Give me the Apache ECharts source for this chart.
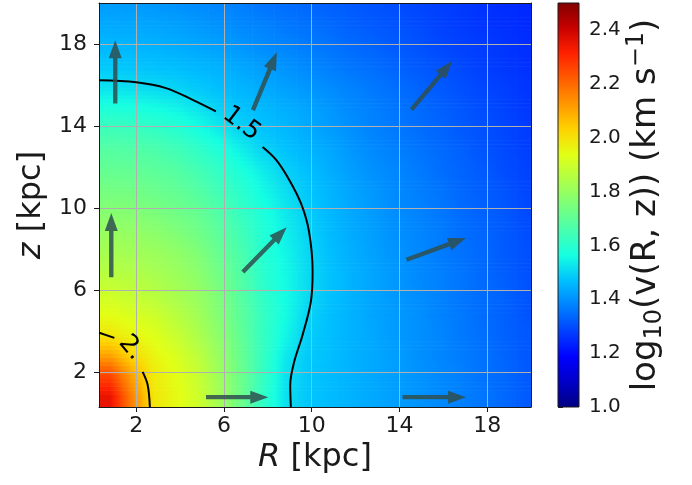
<!DOCTYPE html>
<html>
<head>
<meta charset="utf-8">
<script src="https://cdn.jsdelivr.net/npm/echarts@6.0.0/dist/echarts.min.js"></script>
<style>
  html, body { margin: 0; padding: 0; background: #fff; }
  #chart { width: 692px; height: 485px; }
</style>
</head>
<body>
<div id="chart"></div>
<script>
// cell centres (kpc), cells are 1 kpc wide
const rCells = [0.8, 1.8, 2.8, 3.8, 4.8, 5.8, 6.8, 7.8, 8.8, 9.8, 10.8, 11.8, 12.8, 13.8, 14.8, 15.8, 16.8, 17.8, 18.8, 19.8];
const zCells = [0.8, 1.8, 2.8, 3.8, 4.8, 5.8, 6.8, 7.8, 8.8, 9.8, 10.8, 11.8, 12.8, 13.8, 14.8, 15.8, 16.8, 17.8, 18.8, 19.8];

// log10 v, one row per z cell (bottom row first)
const logV = [
    [2.35, 2.16, 1.99, 1.95, 1.90, 1.82, 1.72, 1.61, 1.52, 1.48, 1.465, 1.45, 1.435, 1.42, 1.405, 1.39, 1.375, 1.36, 1.34, 1.32],
    [2.26, 2.11, 1.98, 1.94, 1.89, 1.81, 1.72, 1.62, 1.52, 1.48, 1.465, 1.45, 1.435, 1.42, 1.405, 1.39, 1.375, 1.355, 1.34, 1.32],
    [2.11, 2.02, 1.96, 1.92, 1.87, 1.80, 1.71, 1.62, 1.53, 1.485, 1.47, 1.45, 1.435, 1.42, 1.40, 1.385, 1.37, 1.355, 1.335, 1.315],
    [1.99, 1.96, 1.93, 1.89, 1.84, 1.78, 1.70, 1.62, 1.55, 1.49, 1.47, 1.45, 1.435, 1.415, 1.40, 1.385, 1.365, 1.35, 1.33, 1.315],
    [1.94, 1.92, 1.90, 1.86, 1.82, 1.76, 1.69, 1.62, 1.56, 1.50, 1.47, 1.45, 1.43, 1.415, 1.40, 1.38, 1.365, 1.345, 1.33, 1.31],
    [1.90, 1.88, 1.86, 1.83, 1.80, 1.75, 1.68, 1.61, 1.56, 1.51, 1.475, 1.45, 1.43, 1.41, 1.395, 1.38, 1.36, 1.345, 1.33, 1.31],
    [1.86, 1.85, 1.83, 1.81, 1.78, 1.73, 1.67, 1.60, 1.555, 1.51, 1.475, 1.45, 1.43, 1.41, 1.39, 1.375, 1.36, 1.34, 1.325, 1.305],
    [1.83, 1.82, 1.81, 1.79, 1.76, 1.71, 1.66, 1.59, 1.55, 1.505, 1.47, 1.445, 1.425, 1.405, 1.39, 1.37, 1.355, 1.34, 1.32, 1.305],
    [1.80, 1.795, 1.78, 1.76, 1.73, 1.69, 1.64, 1.585, 1.54, 1.50, 1.465, 1.44, 1.42, 1.40, 1.385, 1.37, 1.35, 1.335, 1.32, 1.30],
    [1.77, 1.765, 1.75, 1.73, 1.71, 1.67, 1.62, 1.575, 1.53, 1.49, 1.46, 1.435, 1.415, 1.395, 1.38, 1.365, 1.345, 1.33, 1.315, 1.295],
    [1.74, 1.735, 1.72, 1.705, 1.68, 1.64, 1.60, 1.555, 1.515, 1.48, 1.455, 1.43, 1.41, 1.39, 1.375, 1.36, 1.34, 1.325, 1.31, 1.29],
    [1.71, 1.705, 1.695, 1.68, 1.65, 1.615, 1.575, 1.535, 1.495, 1.47, 1.445, 1.42, 1.40, 1.385, 1.37, 1.35, 1.335, 1.32, 1.30, 1.285],
    [1.68, 1.675, 1.665, 1.645, 1.615, 1.58, 1.54, 1.50, 1.475, 1.455, 1.435, 1.41, 1.39, 1.375, 1.36, 1.345, 1.33, 1.31, 1.295, 1.28],
    [1.64, 1.635, 1.62, 1.60, 1.57, 1.535, 1.50, 1.475, 1.46, 1.44, 1.42, 1.40, 1.38, 1.365, 1.35, 1.335, 1.32, 1.305, 1.29, 1.275],
    [1.58, 1.575, 1.565, 1.55, 1.525, 1.495, 1.475, 1.46, 1.445, 1.43, 1.41, 1.39, 1.375, 1.36, 1.345, 1.33, 1.315, 1.30, 1.285, 1.27],
    [1.525, 1.52, 1.51, 1.50, 1.485, 1.47, 1.455, 1.44, 1.425, 1.41, 1.395, 1.38, 1.365, 1.35, 1.335, 1.32, 1.305, 1.29, 1.28, 1.265],
    [1.485, 1.48, 1.475, 1.47, 1.46, 1.45, 1.435, 1.42, 1.405, 1.39, 1.375, 1.36, 1.35, 1.335, 1.32, 1.31, 1.295, 1.28, 1.27, 1.26],
    [1.46, 1.458, 1.452, 1.445, 1.435, 1.425, 1.41, 1.395, 1.385, 1.37, 1.36, 1.345, 1.335, 1.32, 1.31, 1.295, 1.285, 1.275, 1.265, 1.255],
    [1.44, 1.437, 1.432, 1.425, 1.415, 1.405, 1.39, 1.38, 1.365, 1.355, 1.345, 1.33, 1.32, 1.31, 1.30, 1.285, 1.275, 1.265, 1.258, 1.25],
    [1.42, 1.417, 1.412, 1.405, 1.395, 1.385, 1.375, 1.36, 1.35, 1.34, 1.33, 1.32, 1.31, 1.30, 1.29, 1.28, 1.27, 1.26, 1.252, 1.245]
];

// contour log10 v = 1.5, two pieces (gap for the label)
const c15aR = [0.31, 2.0, 3.35, 4.57, 5.63];
const c15aZ = [16.23, 16.13, 15.85, 15.28, 14.72];
const c15bR = [7.76, 8.37, 8.97, 9.52, 9.88, 10.04, 9.96, 9.58, 9.2, 9.02, 9.05];
const c15bZ = [12.98, 12.36, 11.38, 10.2, 8.84, 6.9, 5.43, 3.8, 2.5, 1.37, 0.29];
// contour log10 v = 2
const c20aR = [0.31, 1.0];
const c20aZ = [3.92, 3.67];
const c20bR = [2.29, 2.52, 2.62];
const c20bZ = [2.01, 1.37, 0.29];

// contour labels
const labelText = ["1.5", "2."];
const labelR = [6.8, 1.76];
const labelZ = [14.11, 3.19];

// velocity arrows: tail (R, z) and components (dR, dz)
const arrowR = [1.04, 0.86, 5.18, 7.32, 6.86, 14.55, 14.32, 14.14];
const arrowZ = [15.1, 6.63, 0.78, 14.78, 6.88, 14.8, 7.48, 0.78];
const arrowDR = [0, 0, 2.84, 1.09, 2.0, 1.86, 2.72, 2.9];
const arrowDZ = [3.08, 3.13, 0, 2.82, 2.19, 2.37, 1.06, 0];

const rTicks = [2, 6, 10, 14, 18];
const zTicks = [2, 6, 10, 14, 18];
const cbTicks = [1.0, 1.2, 1.4, 1.6, 1.8, 2.0, 2.2, 2.4];
const vMin = 1.0, vMax = 2.5;

const jet = ["#000080", "#0000c8", "#0000ff", "#0040ff", "#0080ff", "#00bfff", "#15ffe2", "#48ffaf",
    "#7bff7b", "#afff48", "#e2ff15", "#ffd200", "#ff9700", "#ff5c00", "#ff2100", "#c80000", "#800000"];

const FONT = "DejaVu Sans";
const INK = "#1a1a1a";
const labelRotation = [-37.5, -50];

// shading (like imshow bilinear): look up the grid, no new data points
function clampIdx(f, n) { return Math.max(0, Math.min(n - 1, f)); }
function shadeAt(r, z) {
    const fx = clampIdx((r - rCells[0]) / (rCells[1] - rCells[0]), rCells.length);
    const fy = clampIdx((z - zCells[0]) / (zCells[1] - zCells[0]), zCells.length);
    const i0 = Math.floor(fx), j0 = Math.floor(fy);
    const i1 = Math.min(i0 + 1, rCells.length - 1), j1 = Math.min(j0 + 1, zCells.length - 1);
    const tx = fx - i0, ty = fy - j0;
    const a = logV[j0][i0] * (1 - tx) + logV[j0][i1] * tx;
    const b = logV[j1][i0] * (1 - tx) + logV[j1][i1] * tx;
    return a * (1 - ty) + b * ty;
}
function jetColor(v) {
    const t = Math.max(0, Math.min(1, (v - vMin) / (vMax - vMin)));
    return echarts.color.lerp(t, jet);
}

const cells = [];
zCells.forEach((z, j) => {
    rCells.forEach((r, i) => cells.push([r, z, logV[j][i]]));
});

const chart = echarts.init(document.getElementById("chart"), null, { renderer: "canvas" });

function contourSeries(rs, zs) {
    return {
        type: "line",
        xAxisIndex: 0,
        yAxisIndex: 0,
        data: rs.map((r, i) => [r, zs[i]]),
        smooth: 0.35,
        showSymbol: false,
        symbol: "none",
        lineStyle: { color: "#000", width: 2 },
        z: 5,
        silent: true
    };
}

chart.setOption({
    animation: false,
    backgroundColor: "#fff",
    grid: [
        { left: 99, top: 3, width: 432, height: 404 },
        { left: 558, top: 3, width: 21, height: 404 }
    ],
    xAxis: [
        {
            gridIndex: 0, type: "value", min: 0.3, max: 20, z: 3,
            axisLine: { show: true, onZero: false, lineStyle: { color: INK, width: 1 } },
            axisTick: { show: true, length: 5, customValues: rTicks, lineStyle: { color: INK } },
            axisLabel: { customValues: rTicks, fontSize: 22, fontFamily: FONT, color: INK, margin: 8 },
            splitLine: { show: true, lineStyle: { color: "#b0b0b0", width: 1 } },
            name: "{i|R}{n| [kpc]}",
            nameLocation: "middle",
            nameGap: 32,
            nameTextStyle: {
                rich: {
                    i: { fontSize: 32, fontFamily: FONT, fontStyle: "italic", color: INK },
                    n: { fontSize: 32, fontFamily: FONT, color: INK }
                }
            }
        },
        { gridIndex: 1, type: "value", min: 0, max: 1, show: false },
        {
            gridIndex: 0, type: "value", min: 0.3, max: 20, position: "top", z: 4,
            axisLine: { show: true, onZero: false, lineStyle: { color: INK, width: 1 } },
            axisTick: { show: false }, axisLabel: { show: false }, splitLine: { show: false }
        }
    ],
    yAxis: [
        {
            gridIndex: 0, type: "value", min: 0.3, max: 20, z: 3,
            axisLine: { show: true, onZero: false, lineStyle: { color: INK, width: 1 } },
            axisTick: { show: true, length: 5, customValues: zTicks, lineStyle: { color: INK } },
            axisLabel: { customValues: zTicks, fontSize: 22, fontFamily: FONT, color: INK, margin: 12 },
            splitLine: { show: true, lineStyle: { color: "#b0b0b0", width: 1 } },
            name: "{i|z}{n| [kpc]}",
            nameLocation: "middle",
            nameRotate: 90,
            nameGap: 50,
            nameTextStyle: {
                rich: {
                    i: { fontSize: 32, fontFamily: FONT, fontStyle: "italic", color: INK },
                    n: { fontSize: 32, fontFamily: FONT, color: INK }
                }
            }
        },
        {
            gridIndex: 1, type: "value", min: vMin, max: vMax, position: "right",
            axisLine: { show: false },
            axisTick: { show: true, length: 5, customValues: cbTicks, lineStyle: { color: INK } },
            axisLabel: {
                customValues: cbTicks, fontSize: 20, fontFamily: FONT, color: INK, margin: 10,
                formatter: v => v.toFixed(1)
            },
            splitLine: { show: false },
            name: "{t|log}{s|10}{t|(v(R, z)) (km s}{p|−1}{t|)}",
            nameLocation: "middle",
            nameRotate: 90,
            nameGap: 46,
            nameTextStyle: {
                rich: {
                    t: { fontSize: 34, fontFamily: FONT, color: INK, lineHeight: 42, verticalAlign: "middle" },
                    s: { fontSize: 24, fontFamily: FONT, color: INK, lineHeight: 25, verticalAlign: "bottom" },
                    p: { fontSize: 24, fontFamily: FONT, color: INK, lineHeight: 25, verticalAlign: "top" }
                }
            }
        },
        {
            gridIndex: 0, type: "value", min: 0.3, max: 20, position: "right", z: 4,
            axisLine: { show: true, onZero: false, lineStyle: { color: INK, width: 1 } },
            axisTick: { show: false }, axisLabel: { show: false }, splitLine: { show: false }
        }
    ],
    series: [
        // colour map cells, each shaded in thin strips
        {
            type: "custom",
            xAxisIndex: 0,
            yAxisIndex: 0,
            clip: true,
            z: 1,
            silent: true,
            data: cells,
            encode: { x: 0, y: 1 },
            renderItem: function (params, api) {
                const r = api.value(0), z = api.value(1);
                const strips = 5;
                const children = [];
                const left = api.coord([r - 0.5, z])[0];
                const right = api.coord([r + 0.5, z])[0];
                for (let k = 0; k < strips; k++) {
                    const z0 = z - 0.5 + k / strips;
                    const z1 = z0 + 1 / strips;
                    const zm = (z0 + z1) / 2;
                    const yTop = api.coord([r, z1])[1];
                    const yBot = api.coord([r, z0])[1];
                    const stops = [0, 0.25, 0.5, 0.75, 1].map(f => ({
                        offset: f,
                        color: jetColor(shadeAt(r - 0.5 + f, zm))
                    }));
                    children.push({
                        type: "rect",
                        shape: { x: left - 0.3, y: yTop - 0.3, width: right - left + 0.6, height: yBot - yTop + 0.6 },
                        style: { fill: new echarts.graphic.LinearGradient(0, 0, 1, 0, stops) }
                    });
                }
                return { type: "group", children: children };
            }
        },
        contourSeries(c15aR, c15aZ),
        contourSeries(c15bR, c15bZ),
        contourSeries(c20aR, c20aZ),
        contourSeries(c20bR, c20bZ),
        // contour labels
        {
            type: "custom",
            xAxisIndex: 0,
            yAxisIndex: 0,
            z: 7,
            silent: true,
            data: labelR.map((r, i) => [r, labelZ[i]]),
            renderItem: function (params, api) {
                const c = api.coord([api.value(0), api.value(1)]);
                return {
                    type: "text",
                    x: c[0],
                    y: c[1],
                    rotation: labelRotation[params.dataIndex] * Math.PI / 180,
                    style: {
                        text: labelText[params.dataIndex],
                        fontSize: 25,
                        fontFamily: FONT,
                        fill: "#000",
                        align: "center",
                        verticalAlign: "middle"
                    }
                };
            }
        },
        // velocity arrows
        {
            type: "custom",
            xAxisIndex: 0,
            yAxisIndex: 0,
            z: 6,
            silent: true,
            data: arrowR.map((r, i) => [r, arrowZ[i], arrowDR[i], arrowDZ[i]]),
            renderItem: function (params, api) {
                const r = api.value(0), z = api.value(1);
                const p0 = api.coord([r, z]);
                const p1 = api.coord([r + api.value(2), z + api.value(3)]);
                const dx = p1[0] - p0[0], dy = p1[1] - p0[1];
                const len = Math.hypot(dx, dy);
                const ux = dx / len, uy = dy / len;
                const nx = -uy, ny = ux;
                const hl = 18, hw = 6.5, sw = 2.2;
                const bx = p1[0] - ux * hl, by = p1[1] - uy * hl;
                return {
                    type: "polygon",
                    shape: {
                        points: [
                            [p0[0] + nx * sw, p0[1] + ny * sw],
                            [bx + nx * sw, by + ny * sw],
                            [bx + nx * hw, by + ny * hw],
                            [p1[0], p1[1]],
                            [bx - nx * hw, by - ny * hw],
                            [bx - nx * sw, by - ny * sw],
                            [p0[0] - nx * sw, p0[1] - ny * sw]
                        ]
                    },
                    style: { fill: "rgba(47,79,79,0.85)" }
                };
            }
        },
        // colour bar
        {
            type: "custom",
            xAxisIndex: 1,
            yAxisIndex: 1,
            z: 2,
            silent: true,
            data: [[0, vMin, 1, vMax]],
            renderItem: function (params, api) {
                const a = api.coord([api.value(0), api.value(1)]);
                const b = api.coord([api.value(2), api.value(3)]);
                return {
                    type: "rect",
                    shape: { x: a[0], y: b[1], width: b[0] - a[0], height: a[1] - b[1] },
                    style: {
                        fill: new echarts.graphic.LinearGradient(0, 1, 0, 0,
                            jet.map((col, k) => ({ offset: k / (jet.length - 1), color: col }))),
                        stroke: INK,
                        lineWidth: 1
                    }
                };
            }
        }
    ]
});
</script>
</body>
</html>
